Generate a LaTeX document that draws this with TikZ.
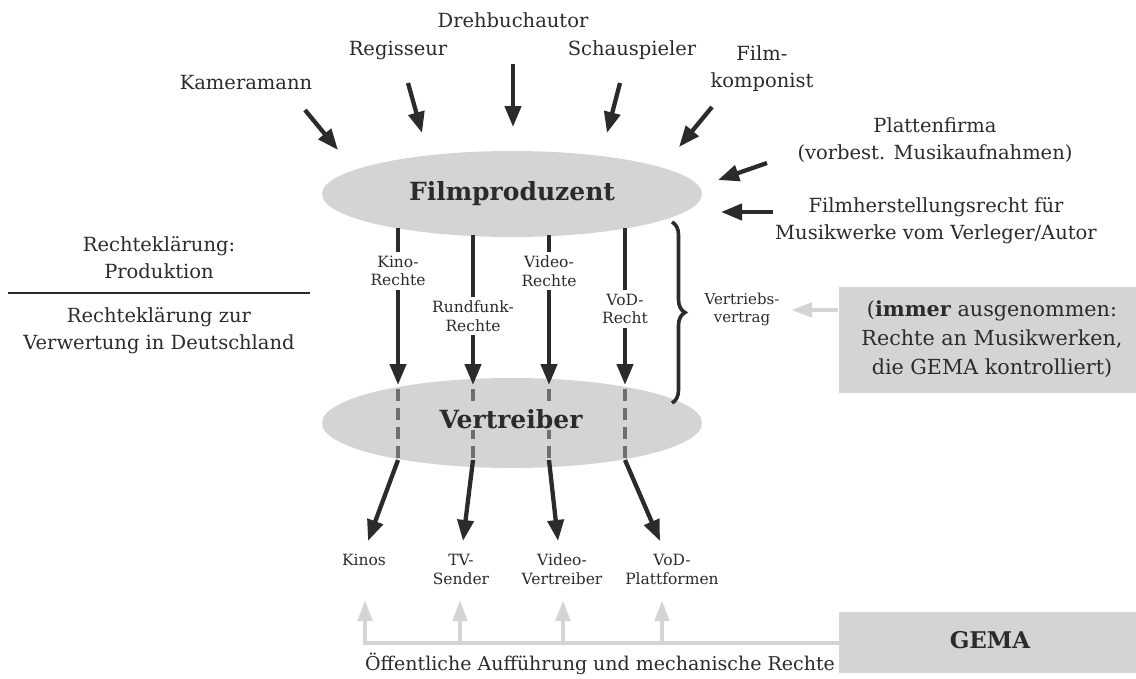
\documentclass[tikz,border=0pt]{standalone}
\usepackage{fontspec}
\setmainfont{DejaVu Serif}
\usetikzlibrary{arrows.meta,decorations.pathreplacing,shapes.geometric}
\definecolor{ink}{HTML}{2B2B2B}
\definecolor{fillg}{HTML}{D4D4D4}
\definecolor{lightar}{HTML}{D4D4D4}
\definecolor{dashg}{HTML}{6E6E6E}
\begin{document}
\begin{tikzpicture}[x=1pt,y=-1pt,
  lbl/.style={font=\fontsize{19.5}{27}\selectfont, align=center, inner sep=1pt, text=ink},
  sml/.style={font=\fontsize{15.5}{18.5}\selectfont, align=center, inner sep=1pt, text=ink},
  tiny/.style={font=\fontsize{15}{18}\selectfont, align=center, inner sep=1pt, text=ink},
  big/.style={font=\fontsize{25}{30}\selectfont\bfseries, text=ink, inner sep=1pt},
  arr/.style={draw=ink, line width=4.3pt, -{Triangle[length=21pt,width=16pt]}},
  garr/.style={draw=lightar, line width=4.5pt, -{Triangle[length=21pt,width=14pt]}},
  dsh/.style={draw=dashg, line width=4.3pt, dash pattern=on 12pt off 7pt},
  ell/.style={ellipse, fill=fillg, minimum width=380pt, minimum height=88pt, inner sep=0pt},
  gbox/.style={fill=fillg, inner sep=0pt, anchor=north west}
]
\useasboundingbox (0,0) rectangle (1136,678);

% ellipses
\node[ell, minimum height=86pt] (prod) at (512,194) {};
\node[big] (prodt) at (512,194) {Filmproduzent};
\node[ell, minimum height=90pt] (vert) at (512,423) {};

% contributors
\node[lbl] (dreh) at (513,20) {Drehbuchautor};
\node[lbl] (reg) at (398,50) {Regisseur};
\node[lbl] (schau) at (632,50) {Schauspieler};
\node[lbl] (kom) at (762,69) {Film-\\komponist};
\node[lbl] (kam) at (246,83) {Kameramann};
\node[lbl] (platte) at (935,140) {Plattenfirma\\(vorbest. Musikaufnahmen)};
\node[lbl] (herst) at (936,221) {Filmherstellungsrecht für\\Musikwerke vom Verleger/Autor};

\coordinate (kamA) at (305,110); \coordinate (kamB) at (338,150);
\coordinate (regA) at (408,83);  \coordinate (regB) at (422,133);
\coordinate (dreA) at (513,64);  \coordinate (dreB) at (513,127);
\coordinate (schA) at (620,83);  \coordinate (schB) at (607,133);
\coordinate (komA) at (712,107); \coordinate (komB) at (679,147);
\coordinate (plaA) at (767,163); \coordinate (plaB) at (718,180);
\coordinate (herA) at (773,212); \coordinate (herB) at (721,212);
\draw[arr] (kamA) -- (kamB);
\draw[arr] (regA) -- (regB);
\draw[arr] (dreA) -- (dreB);
\draw[arr] (schA) -- (schB);
\draw[arr] (komA) -- (komB);
\draw[arr] (plaA) -- (plaB);
\draw[arr] (herA) -- (herB);

% rights arrows between the ellipses
\coordinate (r1a) at (398,228); \coordinate (r1b) at (398,385);
\coordinate (r2a) at (473,235); \coordinate (r2b) at (473,385);
\coordinate (r3a) at (549,235); \coordinate (r3b) at (549,385);
\coordinate (r4a) at (625,228); \coordinate (r4b) at (625,385);
\draw[arr] (r1a) -- (r1b);
\draw[arr] (r2a) -- (r2b);
\draw[arr] (r3a) -- (r3b);
\draw[arr] (r4a) -- (r4b);
\node[sml, fill=white, inner ysep=4pt] (l1) at (398,271) {Kino-\\Rechte};
\node[sml, fill=white, inner ysep=4pt] (l2) at (473,316) {Rundfunk-\\Rechte};
\node[sml, fill=white, inner ysep=4pt] (l3) at (549,271) {Video-\\Rechte};
\node[sml, fill=white, inner ysep=4pt] (l4) at (625,309) {VoD-\\Recht};

% dashed through Vertreiber
\coordinate (d1a) at (398,389); \coordinate (d1b) at (398,460);
\coordinate (d2a) at (473,389); \coordinate (d2b) at (473,460);
\coordinate (d3a) at (549,389); \coordinate (d3b) at (549,460);
\coordinate (d4a) at (625,389); \coordinate (d4b) at (625,460);
\draw[dsh] (d1a) -- (d1b);
\draw[dsh] (d2a) -- (d2b);
\draw[dsh] (d3a) -- (d3b);
\draw[dsh] (d4a) -- (d4b);
\node[big, fill=fillg] (vertt) at (511,419) {Vertreiber};

% outlets
\node[sml, anchor=north] (kinos) at (364,553) {Kinos};
\node[sml, anchor=north] (tv) at (461,553) {TV-\\Sender};
\node[sml, anchor=north] (video) at (562,553) {Video-\\Vertreiber};
\node[sml, anchor=north] (vod) at (672,553) {VoD-\\Plattformen};
\draw[arr] (d1b) -- (368,541);
\draw[arr] (d2b) -- (463,541);
\draw[arr] (d3b) -- (558,541);
\draw[arr] (d4b) -- (660,541);

% brace
\draw[draw=ink, line width=3.6pt, decorate, decoration={brace, amplitude=13pt}] (672,222) -- (672,403);
\node[tiny] (vv) at (742,309) {Vertriebs-\\vertrag};

% exception box
\node[gbox, minimum width=297pt, minimum height=106pt] (exc) at (839,287) {};
\node[lbl, font=\fontsize{20.7}{29}\selectfont] (exct) at (992,339) {(\textbf{immer} ausgenommen:\\Rechte an Musikwerken,\\die GEMA kontrolliert)};
\coordinate (excL) at (838,310);
\draw[garr] (excL) -- (791,310);

% left labels
\node[lbl] (rp) at (159,258) {Rechteklärung:\\Produktion};
\draw[draw=ink, line width=1.3pt] (8,293) -- (310,293);
\node[lbl] (rv) at (159,331) {Rechteklärung zur\\Verwertung in Deutschland};

% GEMA
\node[gbox, minimum width=297pt, minimum height=61pt] (gema) at (839,612) {};
\node[font=\fontsize{23}{27}\selectfont\bfseries, text=ink] (gemat) at (990,640) {GEMA};
\coordinate (h0) at (839,643);
\coordinate (h1) at (365,643); \coordinate (h2) at (460,643);
\coordinate (h3) at (563,643); \coordinate (h4) at (662,643);
\draw[draw=lightar, line width=4.5pt] (h0) -- (h1) -- (365,620);
\draw[garr] (h1) -- (365,600);
\draw[garr] (h2) -- (460,600);
\draw[garr] (h3) -- (563,600);
\draw[garr] (h4) -- (662,600);
\node[font=\fontsize{19}{23}\selectfont, text=ink, inner sep=1pt] (oeff) at (600,664) {Öffentliche Aufführung und mechanische Rechte};
\end{tikzpicture}
\end{document}
